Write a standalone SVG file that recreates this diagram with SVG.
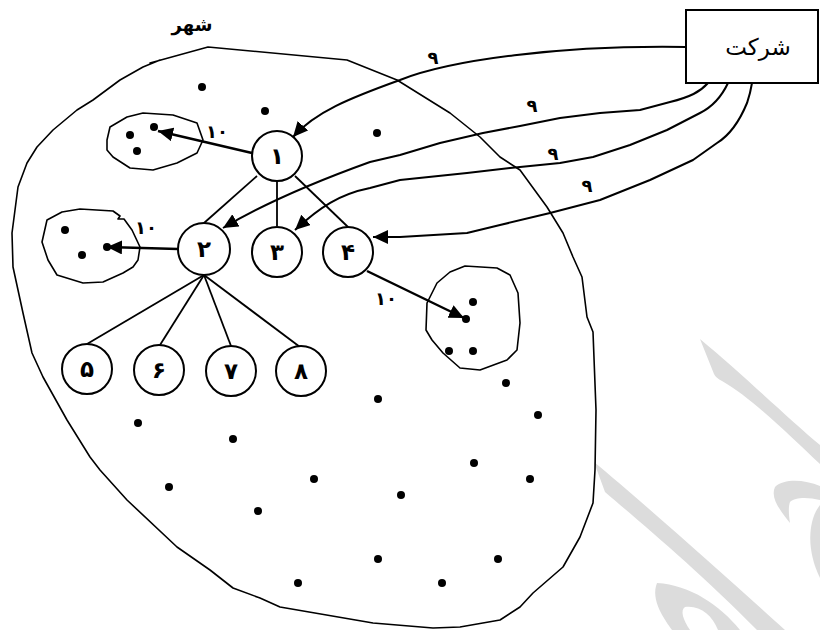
<svg xmlns="http://www.w3.org/2000/svg" width="820" height="630" viewBox="0 0 820 630">
<defs>
<marker id="ah" markerUnits="userSpaceOnUse" markerWidth="16" markerHeight="14" refX="15" refY="7" orient="auto">
<path d="M0,0 L15,7 L0,14 z" fill="#000"/>
</marker>
<style>
.ol{fill:none;stroke:#000;stroke-width:1.6;stroke-linejoin:round;stroke-linecap:round}
.nd{fill:#fff;stroke:#000;stroke-width:2}
.ed{stroke:#000;stroke-width:1.8;fill:none}
.ar{stroke:#000;stroke-width:2.5;fill:none;marker-end:url(#ah)}
.cv{stroke:#000;stroke-width:2;fill:none;stroke-linejoin:round}
.dot{fill:#000}
.num{font-family:"DejaVu Sans",sans-serif;font-weight:bold;font-size:23px;text-anchor:middle}
.lbl{font-family:"DejaVu Sans",sans-serif;font-weight:bold;font-size:18px;text-anchor:middle}
.wm{fill:#dcdcdc}
</style>
</defs>
<rect width="820" height="630" fill="#fff"/>
<g id="watermark">
<path class="wm" d="M700,339 C740,372 790,420 820,445 L820,464 C790,436 752,398 722,381 Q716,378 714,374 Z"/>
<path class="wm" d="M594,462 C640,500 730,580 785,630 L757,630 C700,572 640,522 605,492 Z"/>
<path class="wm" d="M790,523 C780,510 770,498 775,487 C785,478 805,480 820,486 L820,500 C808,497 795,497 790,502 C788,508 789,516 790,523 Z"/>
<path class="wm" d="M820,505 C808,520 806,550 820,578 Z"/>
<path class="wm" d="M657,583 C650,600 665,620 672,630 L690,630 C683,620 680,610 685,607 C700,605 712,615 718,630 L740,630 C720,605 690,585 657,583 Z"/>
</g>
<g id="city">
<path class="ol" d="M160,60 L143,67 L120,80 L93,100 L77,110 L53,130 L37,147 L27,163 L18,187 L12,233 L13,267 L23,313 L32,353 L43,377 L67,420 L90,457 L100,470 L127,500 L177,547 L210,570 L233,588 L260,598 L280,607 L373,623 L433,628 L460,627 L500,620 L520,607 L533,593 L563,567 L580,537 L593,503 L595,470 L596,410 L593,332 L587,317 L582,277 L573,257 L563,233 L547,207 L520,170 L500,157 L480,137 L450,113 L397,80 L347,60 L208,47 L150,63"/>
<text x="192" y="31" style="font-family:'DejaVu Sans',sans-serif;font-weight:bold;font-size:18px;text-anchor:middle">شهر</text>
</g>
<g id="dots">
<circle class="dot" cx="202" cy="87" r="4"/>
<circle class="dot" cx="265" cy="111" r="4"/>
<circle class="dot" cx="377" cy="133" r="4"/>
<circle class="dot" cx="506" cy="383" r="4"/>
<circle class="dot" cx="378" cy="399" r="4"/>
<circle class="dot" cx="538" cy="415" r="4"/>
<circle class="dot" cx="138" cy="423" r="4"/>
<circle class="dot" cx="233" cy="439" r="4"/>
<circle class="dot" cx="474" cy="463" r="4"/>
<circle class="dot" cx="530" cy="479" r="4"/>
<circle class="dot" cx="314" cy="479" r="4"/>
<circle class="dot" cx="169" cy="487" r="4"/>
<circle class="dot" cx="401" cy="495" r="4"/>
<circle class="dot" cx="258" cy="511" r="4"/>
<circle class="dot" cx="378" cy="559" r="4"/>
<circle class="dot" cx="498" cy="559" r="4"/>
<circle class="dot" cx="298" cy="583" r="4"/>
<circle class="dot" cx="442" cy="583" r="4"/>
</g>
<g id="group1">
<path class="ol" d="M107,140 L110,127 L127,117 L143,113 L173,115 L197,123 L203,140 L197,153 L177,163 L153,170 L130,168 L113,157 L107,150 Z"/>
<circle class="dot" cx="130" cy="135" r="4"/>
<circle class="dot" cx="154" cy="127" r="4"/>
<circle class="dot" cx="137" cy="151" r="4"/>
</g>
<g id="group2">
<path class="ol" d="M42,242 L47,220 L62,212 L80,209 L113,211 L120,216 L118,219 L124,219 L132,230 L140,247 L138,260 L133,267 L123,273 L103,282 L83,283 L57,275 L48,260 Z"/>
<circle class="dot" cx="65" cy="230" r="4"/>
<circle class="dot" cx="82" cy="255" r="4"/>
<circle class="dot" cx="107" cy="247" r="4"/>
</g>
<g id="group3">
<path class="ol" d="M426,330 L427,303 L437,283 L450,272 L465,266 L497,268 L510,275 L518,293 L520,323 L517,350 L507,360 L480,370 L460,368 L443,353 L432,340 Z"/>
<circle class="dot" cx="473" cy="302" r="4"/>
<circle class="dot" cx="466" cy="319" r="4"/>
<circle class="dot" cx="449" cy="351" r="4"/>
<circle class="dot" cx="473" cy="351" r="4"/>
</g>
<g id="company">
<rect x="686" y="10" width="132" height="73" fill="#fff" stroke="#000" stroke-width="2"/>
<text x="758" y="55" style="font-family:'DejaVu Sans',sans-serif;font-size:23px;text-anchor:middle">شرکت</text>
</g>
<g id="connectors">
<line class="ed" x1="257" y1="176" x2="204" y2="223"/>
<line class="ed" x1="277" y1="182" x2="277" y2="226"/>
<line class="ed" x1="295" y1="176" x2="348" y2="227"/>
<line class="ed" x1="204" y1="275" x2="87" y2="344"/>
<line class="ed" x1="204" y1="275" x2="160" y2="345"/>
<line class="ed" x1="204" y1="275" x2="231" y2="346"/>
<line class="ed" x1="204" y1="275" x2="300" y2="347"/>
<line class="ar" x1="252" y1="153" x2="158" y2="131"/>
<line class="ar" x1="178" y1="249" x2="107" y2="247"/>
<line class="ar" x1="367" y1="271" x2="464" y2="318"/>
<path class="cv" marker-end="url(#ah)" d="M686,47 C560,45 450,60 400,80 C350,98 315,112 293,137"/>
<path class="cv" marker-end="url(#ah)" d="M708,83 C700,92 690,97 670,102 L640,110 L600,113 L560,118 L520,126 L483,133 L440,143 L400,155 L370,162 C320,180 270,200 223,228"/>
<path class="cv" marker-end="url(#ah)" d="M728,83 C720,100 710,108 700,113 L667,130 L630,145 L593,157 L560,163 L510,168 L467,173 L400,180 L370,188 C340,194 320,207 295,230"/>
<path class="cv" marker-end="url(#ah)" d="M752,83 C750,95 748,100 747,103 C740,120 730,135 717,143 L693,160 L650,180 L600,200 L550,213 L500,225 L467,233 L400,237 L373,237"/>
<text class="lbl" x="433" y="64">۹</text>
<text class="lbl" x="532" y="112">۹</text>
<text class="lbl" x="553" y="160">۹</text>
<text class="lbl" x="587" y="192">۹</text>
<text class="lbl" x="217" y="138">۱۰</text>
<text class="lbl" x="146" y="234">۱۰</text>
<text class="lbl" x="386" y="305">۱۰</text>
</g>
<g id="node1"><circle class="nd" cx="277" cy="156" r="25"/><text class="num" x="277" y="164">۱</text></g>
<g id="node2"><circle class="nd" cx="204" cy="249" r="26"/><text class="num" x="204" y="257">۲</text></g>
<g id="node3"><circle class="nd" cx="277" cy="252" r="25"/><text class="num" x="277" y="260">۳</text></g>
<g id="node4"><circle class="nd" cx="348" cy="252" r="25"/><text class="num" x="348" y="260">۴</text></g>
<g id="node5"><circle class="nd" cx="87" cy="369" r="25"/><text class="num" x="87" y="377">۵</text></g>
<g id="node6"><circle class="nd" cx="159" cy="370" r="25"/><text class="num" x="159" y="378">۶</text></g>
<g id="node7"><circle class="nd" cx="231" cy="371" r="25"/><text class="num" x="231" y="379">۷</text></g>
<g id="node8"><circle class="nd" cx="301" cy="371" r="25"/><text class="num" x="301" y="379">۸</text></g>
</svg>
